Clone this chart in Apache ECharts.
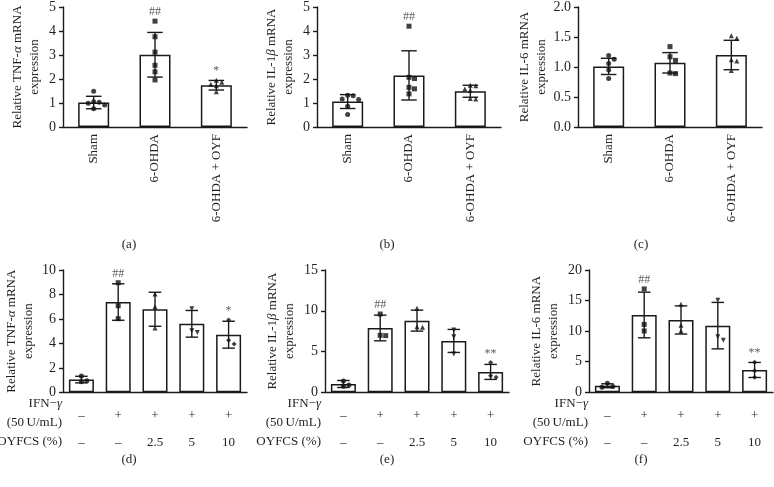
<!DOCTYPE html>
<html><head><meta charset="utf-8">
<script src="https://cdn.jsdelivr.net/npm/echarts@6/dist/echarts.min.js"></script>
<style>html,body{margin:0;padding:0;background:#fff}#c{width:774px;height:487px}</style>
</head><body><div id="c"></div>
<script>
// ---------- DATA ----------
const topCategories = ['Sham', '6-OHDA', '6-OHDA + OYF'];
const ifnRow = ['\u2013', '+', '+', '+', '+'];
const oyfcsRow = ['\u2013', '\u2013', '2.5', '5', '10'];

const tnfTopMean = [1.02, 3.01, 1.74];
const tnfTopSD = [0.26, 0.93, 0.2];
const tnfTopPoints = [[1.49, 1.05, 1.03, 0.99, 0.92, 0.76], [4.41, 3.76, 3.12, 2.57, 2.3, 1.96], [1.95, 1.86, 1.78, 1.72, 1.47]];
const tnfTopSig = ['', '##', '*'];

const il1bTopMean = [1.06, 2.15, 1.49];
const il1bTopSD = [0.29, 1.025, 0.25];
const il1bTopPoints = [[1.32, 1.3, 1.17, 1.15, 0.86, 0.52], [4.2, 2.07, 2.02, 1.65, 1.59, 1.38], [1.74, 1.72, 1.58, 1.52, 1.19, 1.17]];
const il1bTopSig = ['', '##', ''];

const il6TopMean = [1.01, 1.07, 1.2];
const il6TopSD = [0.135, 0.17, 0.245];
const il6TopPoints = [[1.19, 1.13, 1.06, 0.95, 0.81], [1.34, 1.17, 1.11, 0.9, 0.89], [1.52, 1.48, 1.12, 1.1, 0.94]];
const il6TopSig = ['', '', ''];

const tnfBotMean = [1.04, 7.38, 6.79, 5.6, 4.71];
const tnfBotSD = [0.27, 1.49, 1.39, 1.09, 1.1];
const tnfBotPoints = [[1.34, 0.95, 0.87], [8.96, 7.08, 6.02], [8.04, 7.0, 5.26], [6.84, 5.04, 4.88], [5.91, 4.25, 3.95]];
const tnfBotSig = ['', '##', '', '', '*'];

const il1bBotMean = [1.02, 7.89, 8.79, 6.3, 2.5];
const il1bBotSD = [0.43, 1.575, 1.285, 1.41, 0.92];
const il1bBotPoints = [[1.4, 0.9, 0.75], [9.6, 6.99, 6.95], [10.3, 8.05, 7.97], [7.64, 6.82, 4.7], [3.64, 2.04, 1.84]];
const il1bBotSig = ['', '##', '', '', '**'];

const il6BotMean = [1.07, 12.64, 11.83, 10.9, 3.65];
const il6BotSD = [0.32, 3.73, 2.3, 3.8, 1.23];
const il6BotPoints = [[1.47, 0.93, 0.82], [16.9, 11.1, 10.03], [14.39, 10.95, 10.03], [15.04, 9.1, 8.5], [4.9, 3.54, 2.45]];
const il6BotSig = ['', '##', '', '', '**'];

const yMaxes = [5, 5, 2, 10, 15, 20];
const yIntervals = [1, 1, 0.5, 2, 5, 5];
const panelLetters = ['(a)', '(b)', '(c)', '(d)', '(e)', '(f)'];
const yNames = [
  'Relative TNF-{i|\u03b1} mRNA\nexpression',
  'Relative IL-1{i|\u03b2} mRNA\nexpression',
  'Relative IL-6 mRNA\nexpression',
  'Relative TNF-{i|\u03b1} mRNA\nexpression',
  'Relative IL-1{i|\u03b2} mRNA\nexpression',
  'Relative IL-6 mRNA\nexpression'
];

// ---------- LAYOUT / STYLE ----------
const FONT = '"Liberation Serif","Times New Roman",serif';
const TXT = '#231f20';
const LINE = '#1a1a1a';
const layout = [
  {left: 63, top: 4.7, width: 184, height: 122.3, barW: 31, gap: 20, dec: 0},
  {left: 317, top: 4.7, width: 184, height: 122.3, barW: 31, gap: 20, dec: 0},
  {left: 578, top: 4.7, width: 184, height: 122.3, barW: 31, gap: 26, dec: 1},
  {left: 63, top: 270, width: 184, height: 122.3, barW: 25, gap: 26, dec: 0},
  {left: 325, top: 270, width: 184, height: 122.3, barW: 25, gap: 27, dec: 0},
  {left: 589, top: 270, width: 184, height: 122.3, barW: 25, gap: 27, dec: 0}
];
const bottomCats = ifnRow.map((v, i) => v + '|' + oyfcsRow[i]);

const panels = [
  {cats: topCategories, mean: tnfTopMean, sd: tnfTopSD, pts: tnfTopPoints, sig: tnfTopSig},
  {cats: topCategories, mean: il1bTopMean, sd: il1bTopSD, pts: il1bTopPoints, sig: il1bTopSig},
  {cats: topCategories, mean: il6TopMean, sd: il6TopSD, pts: il6TopPoints, sig: il6TopSig},
  {cats: bottomCats, mean: tnfBotMean, sd: tnfBotSD, pts: tnfBotPoints, sig: tnfBotSig},
  {cats: bottomCats, mean: il1bBotMean, sd: il1bBotSD, pts: il1bBotPoints, sig: il1bBotSig},
  {cats: bottomCats, mean: il6BotMean, sd: il6BotSD, pts: il6BotPoints, sig: il6BotSig}
];

const shapes = ['circle', 'rect', 'triangle', 'path://M0,0 L10,0 L5,10 Z', 'diamond'];

// horizontal spreading of overlapping dots (computed from pixel distance)
function swarm(vals, pxPerUnit, size) {
  const placed = [];
  return vals.map(v => {
    const y = v * pxPerUnit;
    const cands = [0, 1, -1, 2, -2, 3, -3];
    for (const k of cands) {
      const dx = k * (size + 0.5);
      if (!placed.some(p => Math.abs(p.dx - dx) < size && Math.abs(p.y - y) < size)) {
        placed.push({dx, y});
        return dx;
      }
    }
    return 0;
  });
}

const grid = [], xAxis = [], yAxis = [], series = [];
panels.forEach((p, i) => {
  const L = layout[i];
  const isTop = i < 3;
  grid.push({left: L.left, top: L.top, width: L.width, height: L.height});
  xAxis.push({
    type: 'category', gridIndex: i, data: p.cats,
    axisLine: {lineStyle: {color: LINE, width: 1.4}},
    axisTick: {alignWithLabel: true, length: 4, lineStyle: {color: LINE, width: 1.4}},
    axisLabel: isTop ? {
      rotate: 90, margin: 7, fontFamily: FONT, fontSize: 13, color: TXT, interval: 0
    } : {
      margin: 10, fontFamily: FONT, fontSize: 13, color: TXT, lineHeight: 27, interval: 0,
      formatter: v => v.split('|').join('\n')
    }
  });
  yAxis.push({
    type: 'value', gridIndex: i, min: 0, max: yMaxes[i], interval: yIntervals[i],
    axisLine: {show: true, lineStyle: {color: LINE, width: 1.4}},
    axisTick: {show: true, length: 4, lineStyle: {color: LINE, width: 1.4}},
    splitLine: {show: false},
    axisLabel: {margin: 7, fontFamily: FONT, fontSize: 14, color: TXT,
      formatter: v => v.toFixed(L.dec)},
    name: yNames[i], nameLocation: 'middle', nameGap: L.gap,
    nameTextStyle: {fontFamily: FONT, fontSize: 13, color: TXT, lineHeight: 17,
      rich: {i: {fontFamily: FONT, fontSize: 13, color: TXT, fontStyle: 'italic', lineHeight: 17}}}
  });
  // bars
  series.push({
    type: 'bar', xAxisIndex: i, yAxisIndex: i, data: p.mean, barWidth: L.barW,
    itemStyle: {color: '#fff', borderColor: LINE, borderWidth: 1.5}, z: 2,
    silent: true, animation: false
  });
  // error bars
  const capHalf = L.barW * 0.25;
  series.push({
    type: 'custom', xAxisIndex: i, yAxisIndex: i, z: 3, animation: false, silent: true,
    data: p.mean.map((m, k) => [k, m, p.sd[k]]),
    renderItem: (params, api) => {
      const x = api.value(0), m = api.value(1), s = api.value(2);
      const top = api.coord([x, m + s]);
      const bot = api.coord([x, m - s]);
      const st = {stroke: LINE, lineWidth: 1.4};
      return {type: 'group', children: [
        {type: 'line', shape: {x1: top[0], y1: top[1], x2: bot[0], y2: bot[1]}, style: st},
        {type: 'line', shape: {x1: top[0] - capHalf, y1: top[1], x2: top[0] + capHalf, y2: top[1]}, style: st},
        {type: 'line', shape: {x1: bot[0] - capHalf, y1: bot[1], x2: bot[0] + capHalf, y2: bot[1]}, style: st}
      ]};
    }
  });
  // points
  const pxPerUnit = L.height / yMaxes[i];
  const size = 5;
  const ptsData = [];
  p.pts.forEach((arr, k) => {
    const offs = swarm(arr, pxPerUnit, size);
    arr.forEach((v, j) => ptsData.push({value: [k, v], symbol: shapes[k % shapes.length], symbolOffset: [offs[j], 0]}));
  });
  series.push({
    type: 'scatter', xAxisIndex: i, yAxisIndex: i, data: ptsData, symbolSize: size,
    itemStyle: {color: '#111'}, z: 4, animation: false, silent: true
  });
  // significance marks
  series.push({
    type: 'scatter', xAxisIndex: i, yAxisIndex: i, symbolSize: 0, z: 5, animation: false, silent: true,
    data: p.sig.map((s, k) => ({value: [k, Math.max(p.mean[k] + p.sd[k], ...p.pts[k])], name: s})),
    label: {show: true, position: 'top', distance: 3, formatter: d => d.name,
      fontFamily: FONT, fontSize: 12, color: '#333'}
  });
});

// graphic texts: panel letters and row headers
const graphic = [];
const letterX = [129, 387, 641];
panelLetters.forEach((t, i) => {
  graphic.push({type: 'text', x: letterX[i % 3], y: i < 3 ? 245 : 460,
    style: {text: t, align: 'center', verticalAlign: 'middle', font: '13px ' + FONT, fill: TXT}});
});
const rowRight = [62, 321, 588];
rowRight.forEach(rx => {
  graphic.push({type: 'text', x: rx, y: 404,
    style: {text: 'IFN\u2212{i|\u03b3}', align: 'right', verticalAlign: 'middle', font: '13px ' + FONT, fill: TXT,
      rich: {i: {fontStyle: 'italic', fontFamily: FONT, fontSize: 13, fill: TXT}}}});
  graphic.push({type: 'text', x: rx, y: 423,
    style: {text: '(50\u2009U/mL)', align: 'right', verticalAlign: 'middle', font: '13px ' + FONT, fill: TXT}});
  graphic.push({type: 'text', x: rx, y: 442,
    style: {text: 'OYFCS (%)', align: 'right', verticalAlign: 'middle', font: '13px ' + FONT, fill: TXT}});
});

const chart = echarts.init(document.getElementById('c'), null, {renderer: 'canvas'});
chart.setOption({animation: false, grid, xAxis, yAxis, series, graphic});
</script>
</body></html>
